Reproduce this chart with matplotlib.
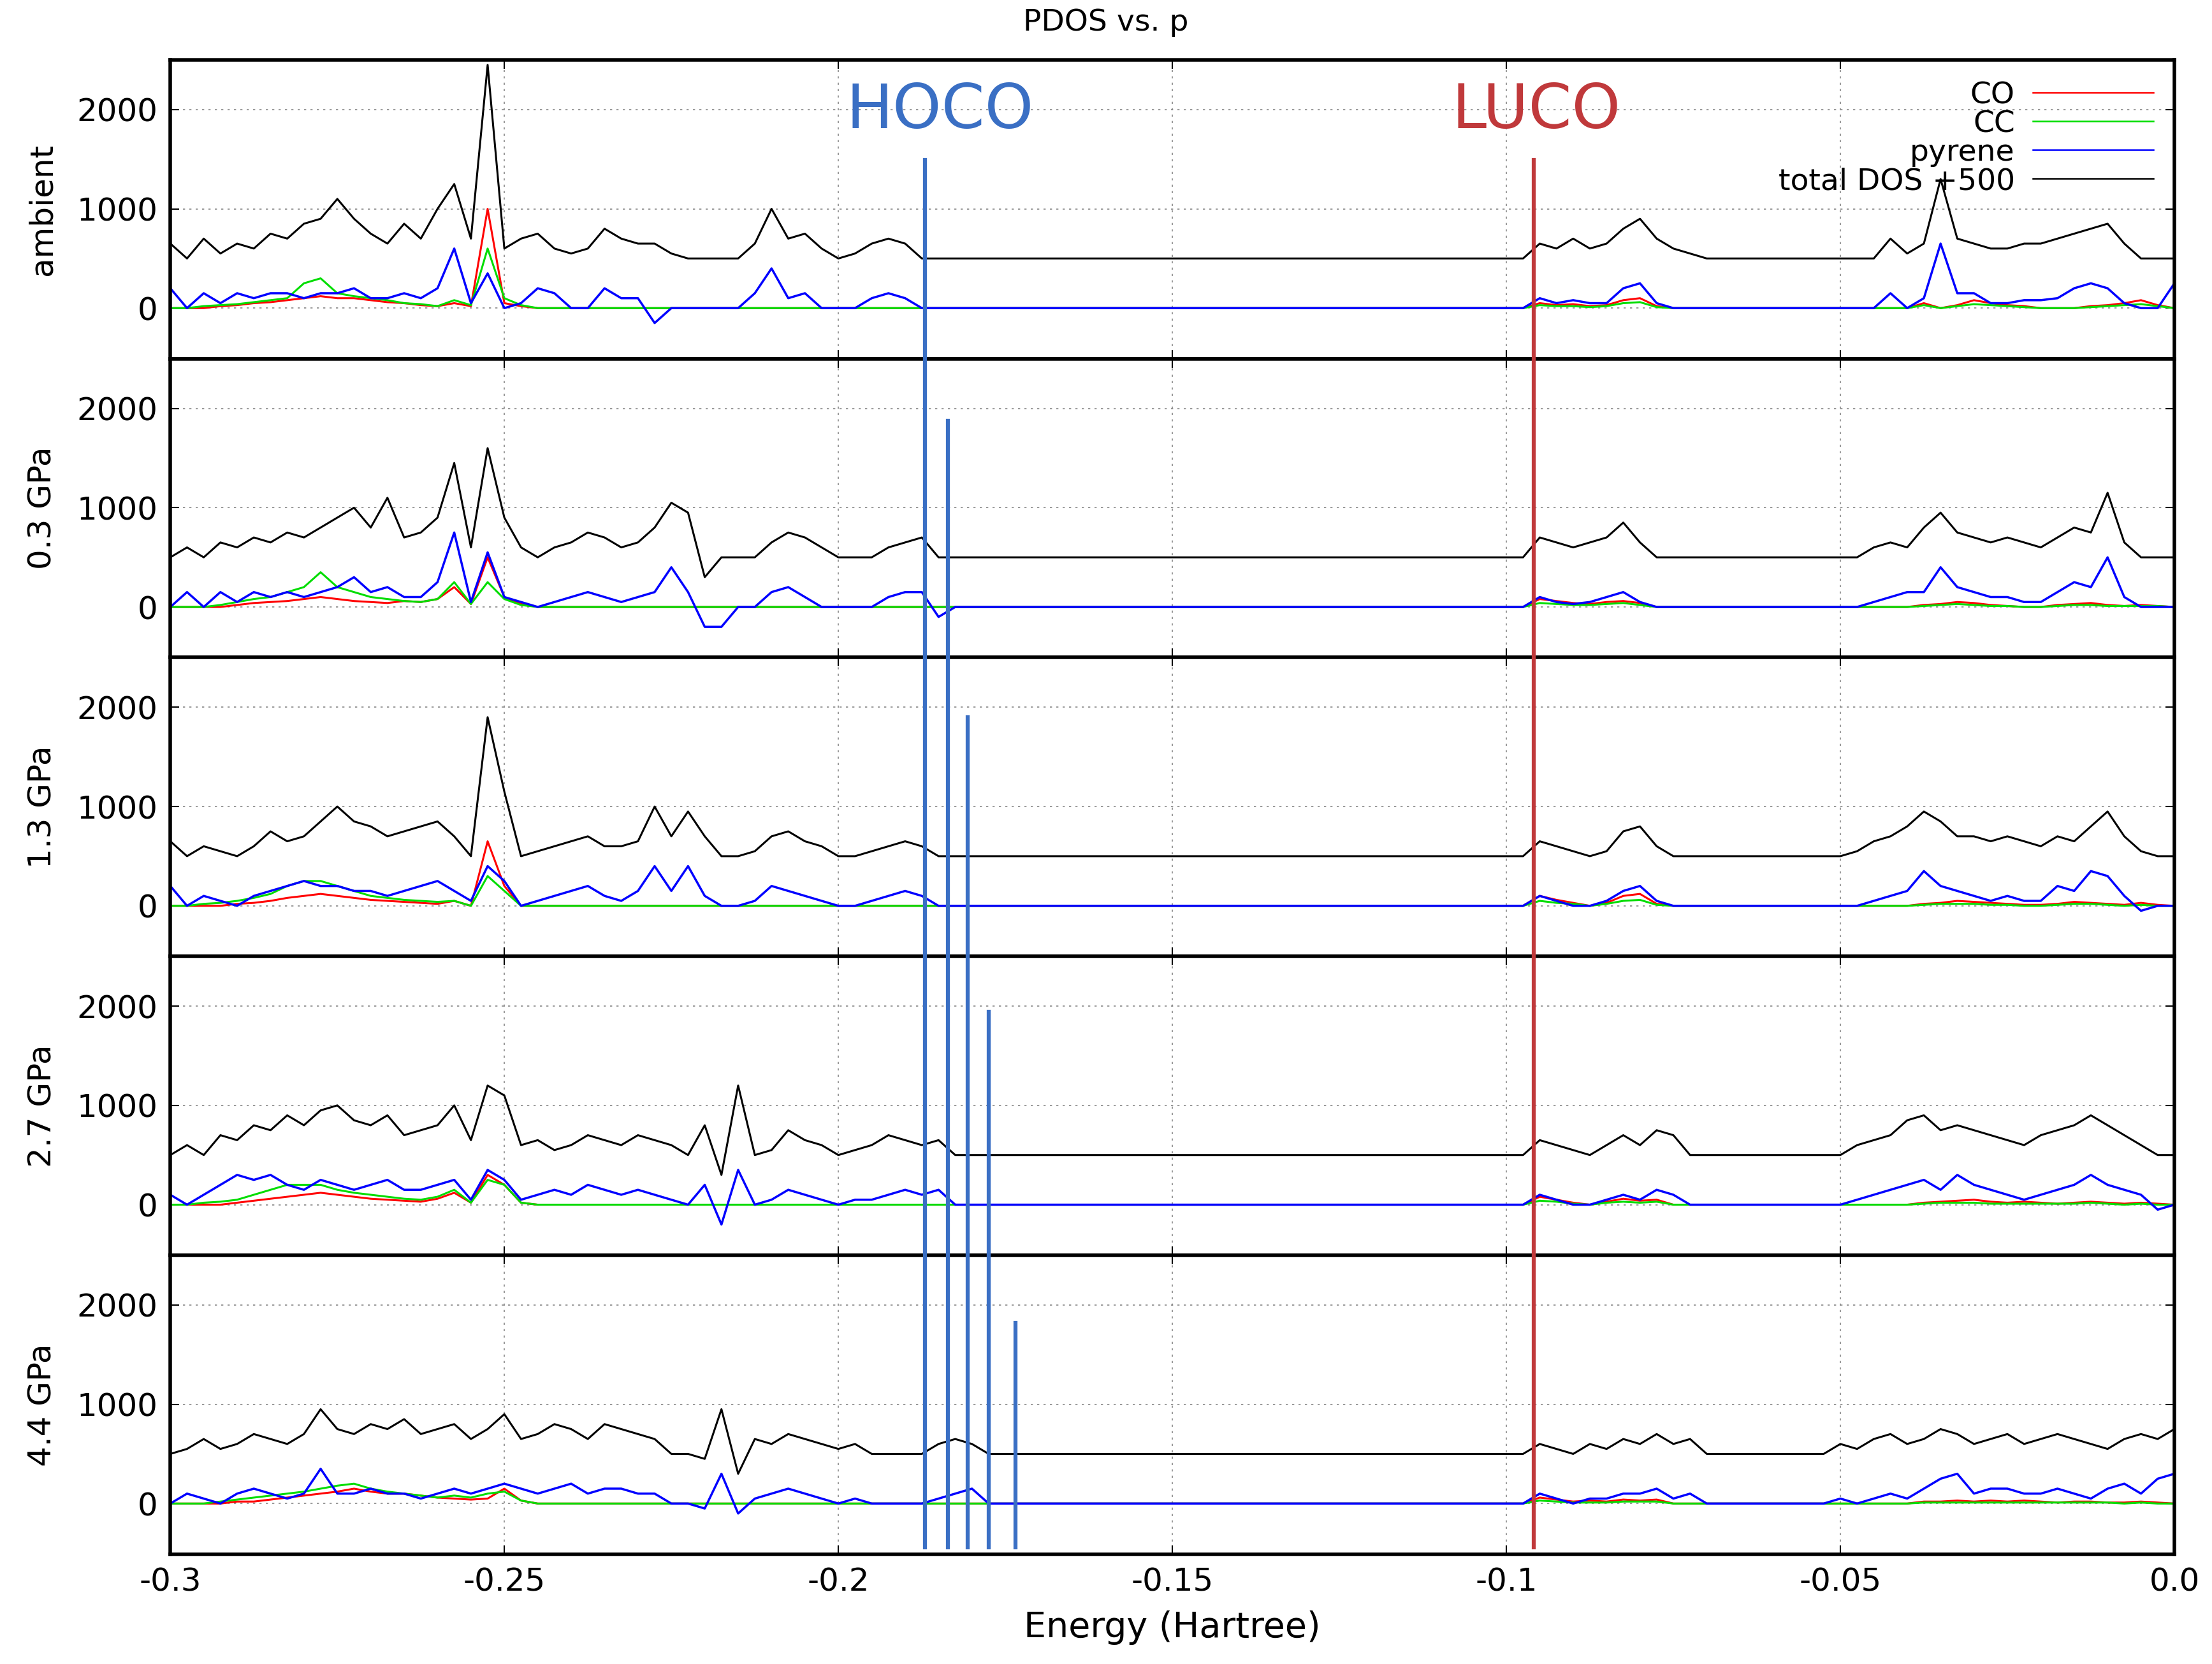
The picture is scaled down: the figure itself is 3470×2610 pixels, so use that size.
import numpy as np
import matplotlib
matplotlib.use('Agg')
import matplotlib.pyplot as plt
from matplotlib.lines import Line2D
from matplotlib.transforms import blended_transform_factory

energy = np.linspace(-0.3, 0.0, 121)
panels = ["ambient", "0.3 GPa", "1.3 GPa", "2.7 GPa", "4.4 GPa"]

total1 = ([650,500,700,550,650,600,750,700,850,900,
           1100,900,750,650,850,700,1000,1250,700,2450,
           600,700,750,600,550,600,800,700,650,650,
           550,500,500,500,500,650,1000,700,750,600,
           500,550,650,700,650] + [500]*37 +
          [650,600,700,600,650,800,900,700,600,550] + [500]*11 +
          [700,550,650,1300,700,650,600,600,650,650,700,750,800,850,650,500,500,500])
pyr1 = ([200,0,150,50,150,100,150,150,100,150,
         150,200,100,100,150,100,200,600,50,350,
         0,50,200,150,0,0,200,100,100,-150,
         0,0,0,0,0,150,400,100,150,0,
         0,0,100,150,100] + [0]*37 +
        [100,50,80,50,50,200,250,50,0,0] + [0]*11 +
        [150,0,100,650,150,150,50,50,80,80,100,200,250,200,50,0,0,250])
co1 = ([0,0,0,20,30,50,60,80,100,120,100,100,80,60,50,30,20,50,20,1000,50,20] + [0]*60 +
       [50,30,40,20,30,80,100,20] + [0]*15 +
       [50,0,30,80,50,30,20,0,0,0,20,30,50,80,30,0])
cc1 = ([0,0,20,30,40,60,80,100,250,300,150,120,100,80,50,40,20,80,30,600,100,30] + [0]*60 +
       [30,20,20,10,20,50,60,10] + [0]*15 +
       [30,0,20,40,30,20,10,0,0,0,10,20,30,40,20,0])

total2 = ([500,600,500,650,600,700,650,750,700,800,
           900,1000,800,1100,700,750,900,1450,600,1600,
           900,600,500,600,650,750,700,600,650,800,
           1050,950,300,500,500,500,650,750,700,600,
           500,500,500,600,650,700] + [500]*36 +
          [700,650,600,650,700,850,650,500] + [500]*10 +
          [500,500,600,650,600,800,950,750,700,650,700,650,600,700,800,750,1150,650,500,500,500])
pyr2 = ([0,150,0,150,50,150,100,150,100,150,
         200,300,150,200,100,100,250,750,50,550,
         100,50,0,50,100,150,100,50,100,150,
         400,150,-200,-200,0,0,150,200,100,0,
         0,0,0,100,150,150,-100] + [0]*35 +
        [100,50,30,50,100,150,50,0] + [0]*10 +
        [0,0,50,100,150,150,400,200,150,100,100,50,50,150,250,200,500,100,0,0,0])
co2 = ([0,0,0,0,20,40,50,60,80,100,80,60,50,40,60,50,80,200,30,500,100,30] + [0]*60 +
       [80,60,40,30,50,60,40,0] + [0]*15 +
       [20,30,50,40,20,10,0,0,20,30,40,20,10,20,10,0])
cc2 = ([0,0,0,20,50,80,100,150,200,350,200,150,100,80,60,50,80,250,30,250,80,20] + [0]*60 +
       [40,30,20,20,30,40,20,0] + [0]*15 +
       [10,20,30,20,10,10,0,0,10,20,20,10,10,10,10,0])

total3 = ([650,500,600,550,500,600,750,650,700,850,
           1000,850,800,700,750,800,850,700,500,1900,
           1150,500,550,600,650,700,600,600,650,1000,
           700,950,700,500,500,550,700,750,650,600,
           500,500,550,600,650,600] + [500]*36 +
          [650,600,550,500,550,750,800,600] + [500]*10 +
          [500,550,650,700,800,950,850,700,700,650,700,650,600,700,650,800,950,700,550,500,500])
pyr3 = ([200,0,100,50,0,100,150,200,250,200,
         200,150,150,100,150,200,250,150,50,400,
         250,0,50,100,150,200,100,50,150,400,
         150,400,100,0,0,50,200,150,100,50,
         0,0,50,100,150,100] + [0]*36 +
        [100,50,0,0,50,150,200,50] + [0]*10 +
        [0,0,50,100,150,350,200,150,100,50,100,50,50,200,150,350,300,100,-50,0,0])
co3 = ([0,0,0,0,20,30,50,80,100,120,100,80,60,50,40,30,20,50,0,650,200,0] + [0]*60 +
       [100,60,30,0,30,100,120,20] + [0]*15 +
       [20,30,50,40,30,20,10,10,20,40,30,20,10,30,10,0])
cc3 = ([0,0,20,30,50,80,120,200,250,250,200,150,100,80,60,50,40,50,0,300,150,0] + [0]*60 +
       [50,30,20,0,20,50,60,10] + [0]*15 +
       [10,20,20,20,10,10,0,0,10,20,20,10,0,10,0,0])

total4 = ([500,600,500,700,650,800,750,900,800,950,
           1000,850,800,900,700,750,800,1000,650,1200,
           1100,600,650,550,600,700,650,600,700,650,
           600,500,800,300,1200,500,550,750,650,600,
           500,550,600,700,650,600,650] + [500]*35 +
          [650,600,550,500,600,700,600,750,700] + [500]*9 +
          [500,600,650,700,850,900,750,800,750,700,650,600,700,750,800,900,800,700,600,500,500])
pyr4 = ([100,0,100,200,300,250,300,200,150,250,
         200,150,200,250,150,150,200,250,50,350,
         250,50,100,150,100,200,150,100,150,100,
         50,0,200,-200,350,0,50,150,100,50,
         0,50,50,100,150,100,150] + [0]*35 +
        [100,50,0,0,50,100,50,150,100] + [0]*9 +
        [0,50,100,150,200,250,150,300,200,150,100,50,100,150,200,300,200,150,100,-50,0])
co4 = ([0,0,0,0,20,40,60,80,100,120,100,80,60,50,40,30,60,120,20,300,200,20] + [0]*60 +
       [80,50,20,0,30,60,40,50] + [0]*15 +
       [20,30,40,50,30,20,30,20,10,20,30,20,10,20,10,0])
cc4 = ([0,0,20,30,50,100,150,200,200,200,150,120,100,80,60,50,80,150,20,250,200,20] + [0]*60 +
       [40,30,10,0,20,30,20,30] + [0]*15 +
       [10,20,20,20,10,10,10,10,10,10,20,10,0,10,0,0])

total5 = ([500,550,650,550,600,700,650,600,700,950,
           750,700,800,750,850,700,750,800,650,750,
           900,650,700,800,750,650,800,750,700,650,
           500,500,450,950,300,650,600,700,650,600,
           550,600,500,500,500,500,600,650,600] + [500]*33 +
          [600,550,500,600,550,650,600,700,600,650] + [500]*8 +
          [600,550,650,700,600,650,750,700,600,650,700,600,650,700,650,600,550,650,700,650,750])
pyr5 = ([0,100,50,0,100,150,100,50,100,350,
         100,100,150,100,100,50,100,150,100,150,
         200,150,100,150,200,100,150,150,100,100,
         0,0,-50,300,-100,50,100,150,100,50,
         0,50,0,0,0,0,50,100,150] + [0]*33 +
        [100,50,0,50,50,100,100,150,50,100] + [0]*8 +
        [50,0,50,100,50,150,250,300,100,150,150,100,100,150,100,50,150,200,100,250,300])
co5 = ([0,0,0,0,20,20,40,60,80,100,120,150,120,100,100,80,60,50,40,50,150,30] + [0]*60 +
       [60,40,20,30,20,40,30,40] + [0]*15 +
       [20,20,30,20,30,20,30,20,10,20,20,10,10,20,10,0])
cc5 = ([0,0,0,20,40,60,80,100,120,150,180,200,150,120,100,80,60,80,60,100,120,30] + [0]*60 +
       [30,20,10,10,10,20,20,20] + [0]*15 +
       [10,10,10,10,10,10,10,10,10,10,10,10,0,10,0,0])

totals = [total1, total2, total3, total4, total5]
pyrenes = [pyr1, pyr2, pyr3, pyr4, pyr5]
cos = [co1, co2, co3, co4, co5]
ccs = [cc1, cc2, cc3, cc4, cc5]

hoco_x = [-0.187, -0.1836, -0.1806, -0.1775, -0.1735]
hoco_top = [0.904, 0.747, 0.569, 0.392, 0.205]
luco_x = -0.0959

fs = 36
fig = plt.figure(figsize=(34.7, 26.1), dpi=100)
left, right, top, bottom = 0.077, 0.983, 0.964, 0.066
h = (top - bottom) / 5
axes = []
for i in range(5):
    ax = fig.add_axes([left, top - (i + 1) * h, right - left, h])
    axes.append(ax)
    ax.plot(energy, cos[i], color='#ff0000', lw=2.2)
    ax.plot(energy, ccs[i], color='#00dd00', lw=2.2)
    ax.plot(energy, pyrenes[i], color='#0000ff', lw=2.5)
    ax.plot(energy, totals[i], color='black', lw=2.2)
    ax.set_xlim(-0.3, 0.0)
    ax.set_ylim(-510, 2500)
    ax.set_yticks([0, 1000, 2000])
    ax.set_xticks([-0.3, -0.25, -0.2, -0.15, -0.1, -0.05, 0.0])
    ax.grid(True, color='#888888', ls=(0, (2, 4)), lw=1.2)
    ax.tick_params(direction='in', length=10, width=1.5, labelsize=fs, top=True, right=True, pad=14)
    ax.set_ylabel(panels[i], fontsize=fs, labelpad=22)
    for s in ax.spines.values():
        s.set_linewidth(4)
    if i < 4:
        ax.tick_params(labelbottom=False)
    else:
        ax.set_xticklabels(["-0.3", "-0.25", "-0.2", "-0.15", "-0.1", "-0.05", "0.0"])
        ax.set_xlabel("Energy (Hartree)", fontsize=fs + 4, labelpad=15)

handles = [Line2D([], [], color='#ff0000', lw=1.8), Line2D([], [], color='#00dd00', lw=1.8),
           Line2D([], [], color='#0000ff', lw=1.8), Line2D([], [], color='black', lw=1.8)]
axes[0].legend(handles, ["CO", "CC", "pyrene", "total DOS +500"], loc='upper right',
               markerfirst=False, frameon=False, fontsize=fs - 2, handlelength=4,
               labelspacing=0.0, borderaxespad=0.3, handletextpad=0.6)
fig.suptitle("PDOS vs. p", fontsize=fs - 2, y=0.995)

tr = blended_transform_factory(axes[-1].transData, fig.transFigure)
for x, t in zip(hoco_x, hoco_top):
    fig.add_artist(Line2D([x, x], [0.070, t], transform=tr, color='#3a6fc4', lw=4.5))
fig.add_artist(Line2D([luco_x, luco_x], [0.070, 0.904], transform=tr, color='#c0393b', lw=4.5))
fig.text(-0.1848, 0.933, "HOCO", transform=tr, color='#3a6fc4', fontsize=70, ha='center', va='center')
fig.text(-0.0955, 0.933, "LUCO", transform=tr, color='#c0393b', fontsize=70, ha='center', va='center')

fig.savefig("out.png", dpi=100)
